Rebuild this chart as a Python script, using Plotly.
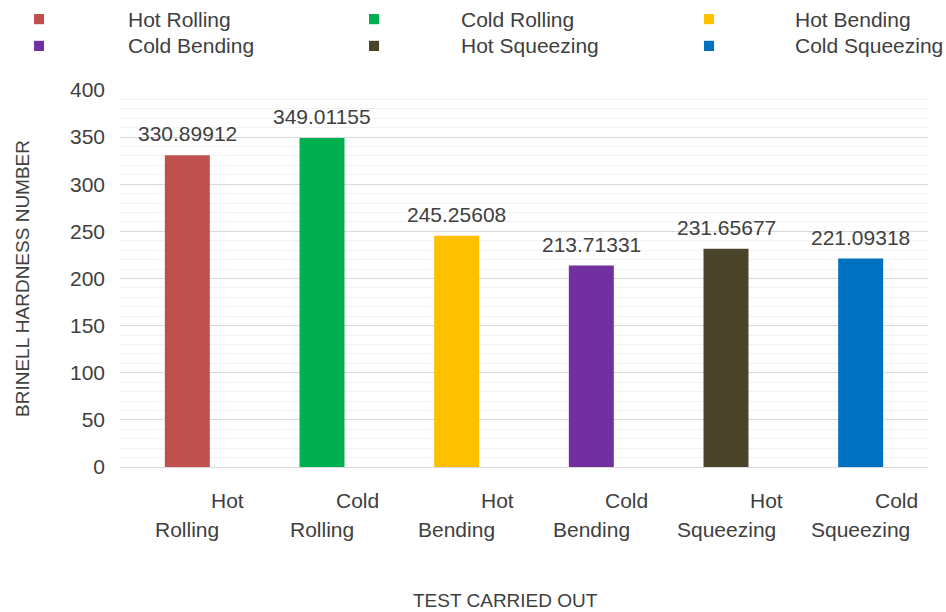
import plotly.graph_objects as go

# Brinell hardness per forming process
categories = ["Hot Rolling", "Cold Rolling", "Hot Bending",
              "Cold Bending", "Hot Squeezing", "Cold Squeezing"]
hardness = [330.89912, 349.01155, 245.25608, 213.71331, 231.65677, 221.09318]
label_top = ["Hot", "Cold", "Hot", "Cold", "Hot", "Cold"]
label_bottom = ["Rolling", "Rolling", "Bending", "Bending", "Squeezing", "Squeezing"]
colors = ["#C0504D", "#00B050", "#FFC000", "#7030A0", "#4A452A", "#0070C0"]

FONT = "Liberation Sans, Arial, sans-serif"
TXT = "#404040"

fig = go.Figure()
fig.add_trace(go.Bar(
    x=categories, y=hardness,
    marker=dict(color=colors, line=dict(width=0)),
    showlegend=False,
))

annotations = []
# value labels sitting above each bar
for cat, v in zip(categories, hardness):
    annotations.append(dict(x=cat, xref="x", y=v, yref="y",
                            text=f"{v:.5f}", showarrow=False,
                            xanchor="center", yanchor="bottom", yshift=8,
                            font=dict(family=FONT, size=21, color=TXT)))

# two-line category labels: first word pushed right, second word centred
for cat, top, bottom in zip(categories, label_top, label_bottom):
    annotations.append(dict(x=cat, xref="x", y=-0.09, yref="paper",
                            text=top, showarrow=False, xanchor="right",
                            yanchor="middle", xshift=59,
                            font=dict(family=FONT, size=21, color=TXT)))
    annotations.append(dict(x=cat, xref="x", y=-0.167, yref="paper",
                            text=bottom, showarrow=False, xanchor="center",
                            yanchor="middle",
                            font=dict(family=FONT, size=21, color=TXT)))

annotations.append(dict(x=0.4777, xref="paper", y=-0.353, yref="paper",
                        text="TEST CARRIED OUT", showarrow=False,
                        xanchor="center", yanchor="middle",
                        font=dict(family=FONT, size=19, color=TXT)))

# legend laid out in a 3x2 grid above the plot
shapes = []
leg_x_text = [0.0074, 0.4195, 0.8329]
leg_rows = [1.188, 1.117]
for i, (cat, col) in enumerate(zip(categories, colors)):
    row, c = divmod(i, 3)
    mx = -0.1064 + c * 0.4146
    my = leg_rows[row]
    shapes.append(dict(type="rect", xref="paper", yref="paper",
                       x0=mx, x1=mx + 0.0124, y0=my - 0.0135, y1=my + 0.0135,
                       fillcolor=col, line=dict(width=0)))
    annotations.append(dict(x=leg_x_text[c], xref="paper", y=my, yref="paper",
                            text=cat, showarrow=False, xanchor="left",
                            yanchor="middle",
                            font=dict(family=FONT, size=21, color=TXT)))

fig.update_layout(
    width=946, height=612,
    margin=dict(l=120, r=18, t=90, b=145),
    paper_bgcolor="white", plot_bgcolor="white",
    bargap=0.666,
    font=dict(family=FONT, color=TXT),
    annotations=annotations,
    shapes=shapes,
    xaxis=dict(showticklabels=False, showgrid=False, showline=False,
               zeroline=False, ticks=""),
    yaxis=dict(range=[0, 400], dtick=50, showgrid=True, gridcolor="#D9D9D9",
               gridwidth=1, zeroline=True, zerolinecolor="#D9D9D9",
               zerolinewidth=1, showline=False,
               tickfont=dict(family=FONT, size=21, color=TXT),
               ticklabelstandoff=14,
               minor=dict(dtick=10, showgrid=True, gridcolor="#F2F2F2",
                          gridwidth=1),
               title=dict(text="BRINELL HARDNESS NUMBER", standoff=35,
                          font=dict(family=FONT, size=19, color=TXT))),
)

fig.write_html("out.html")
